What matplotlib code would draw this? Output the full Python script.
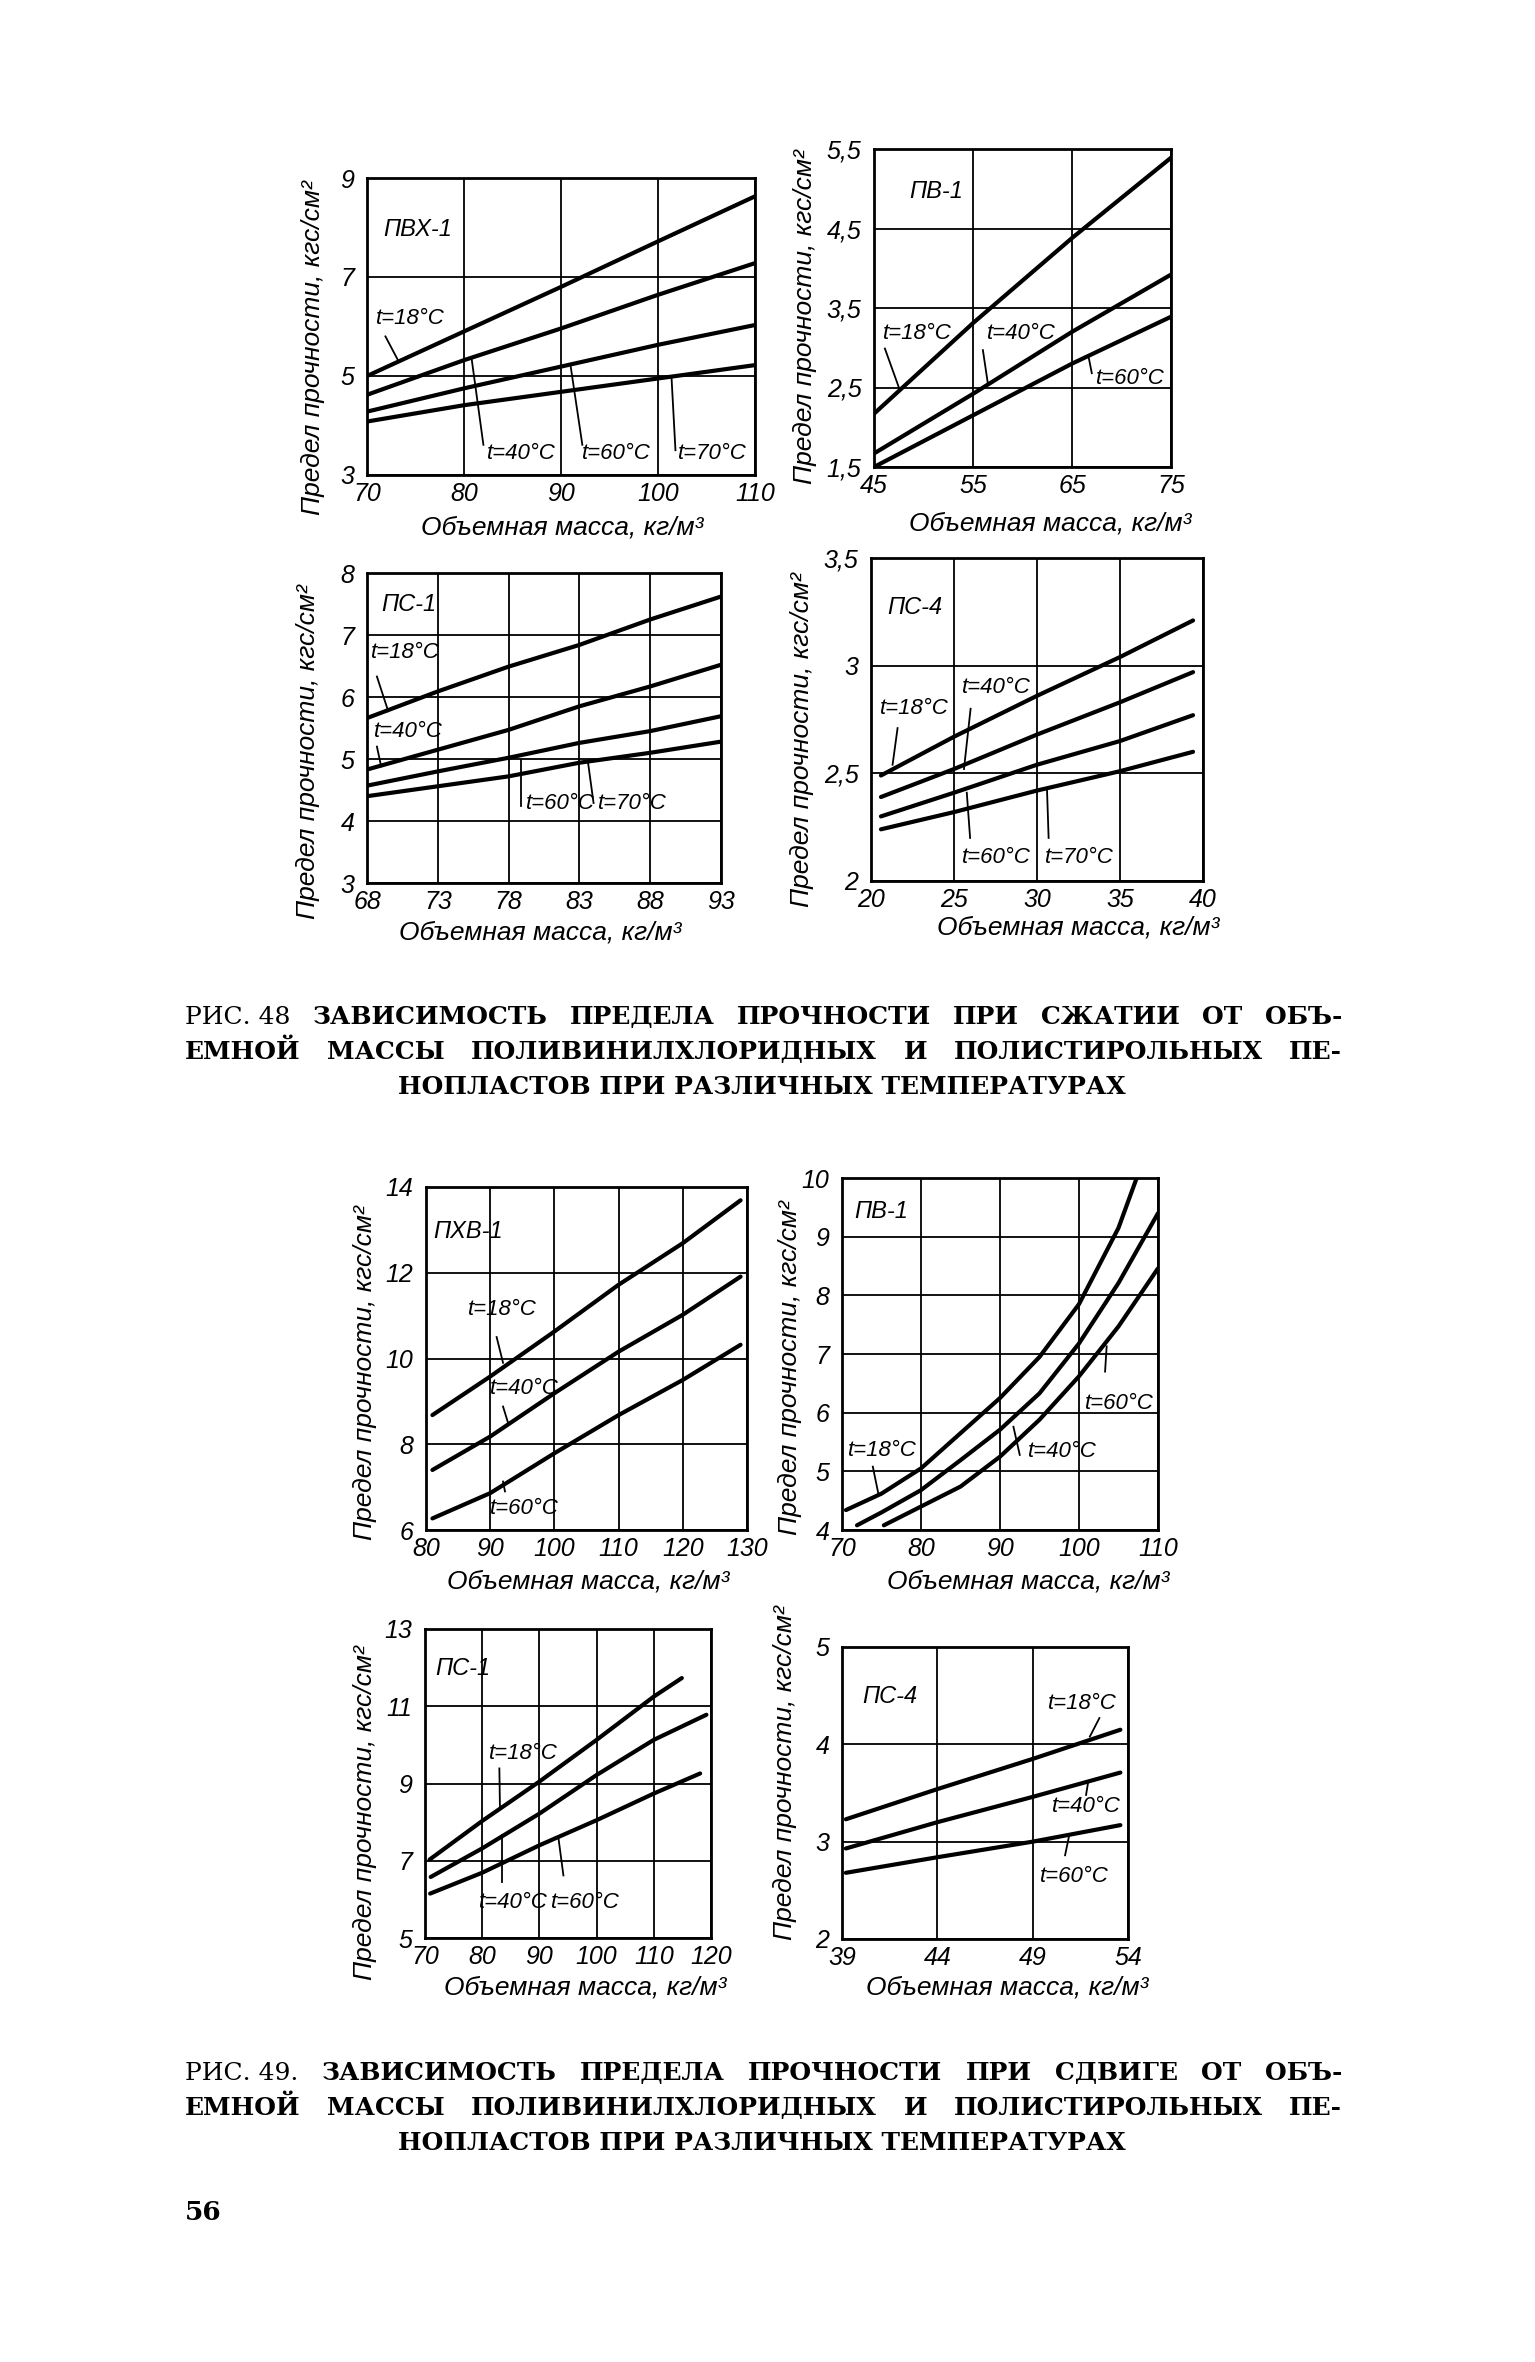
import matplotlib.pyplot as plt

plt.rcParams['font.family'] = ['Liberation Sans', 'DejaVu Sans']
plt.rcParams['font.style'] = 'italic'

W, H = 1535, 2362

# === Рис. 48: предел прочности при сжатии ===
pvh1_x = [70, 80, 90, 100, 110]
pvh1_t18 = [5.0, 5.9, 6.8, 7.72, 8.63]
pvh1_t40 = [4.62, 5.32, 5.96, 6.64, 7.28]
pvh1_t60 = [4.28, 4.75, 5.19, 5.63, 6.03]
pvh1_t70 = [4.08, 4.41, 4.68, 4.95, 5.22]
pvh1_xticks = [70, 80, 90, 100, 110]
pvh1_yticks = [3, 5, 7, 9]
pvh1_ylabels = ['3', '5', '7', '9']

pv1_x = [45, 55, 65, 75]
pv1_t18 = [2.17, 3.31, 4.38, 5.39]
pv1_t40 = [1.67, 2.42, 3.20, 3.92]
pv1_t60 = [1.50, 2.15, 2.80, 3.39]
pv1_xticks = [45, 55, 65, 75]
pv1_yticks = [1.5, 2.5, 3.5, 4.5, 5.5]
pv1_ylabels = ['1,5', '2,5', '3,5', '4,5', '5,5']

ps1_x = [68, 73, 78, 83, 88, 93]
ps1_t18 = [5.66, 6.09, 6.49, 6.84, 7.25, 7.62]
ps1_t40 = [4.83, 5.15, 5.47, 5.85, 6.17, 6.52]
ps1_t60 = [4.57, 4.80, 5.02, 5.26, 5.45, 5.69]
ps1_t70 = [4.40, 4.56, 4.72, 4.94, 5.10, 5.28]
ps1_xticks = [68, 73, 78, 83, 88, 93]
ps1_yticks = [3, 4, 5, 6, 7, 8]
ps1_ylabels = ['3', '4', '5', '6', '7', '8']

ps4_x = [20.6, 25, 30, 35, 39.4]
ps4_t18 = [2.49, 2.67, 2.86, 3.04, 3.21]
ps4_t40 = [2.39, 2.52, 2.68, 2.83, 2.97]
ps4_t60 = [2.30, 2.41, 2.54, 2.65, 2.77]
ps4_t70 = [2.24, 2.32, 2.42, 2.51, 2.60]
ps4_xticks = [20, 25, 30, 35, 40]
ps4_yticks = [2, 2.5, 3, 3.5]
ps4_ylabels = ['2', '2,5', '3', '3,5']

# === Рис. 49: предел прочности при сдвиге ===
pxv1s_x = [81, 90, 100, 110, 120, 129]
pxv1s_t18 = [8.68, 9.58, 10.63, 11.72, 12.69, 13.69]
pxv1s_t40 = [7.40, 8.18, 9.19, 10.16, 11.02, 11.91]
pxv1s_t60 = [6.27, 6.86, 7.79, 8.68, 9.50, 10.32]
pxv1s_xticks = [80, 90, 100, 110, 120, 130]
pxv1s_yticks = [6, 8, 10, 12, 14]
pxv1s_ylabels = ['6', '8', '10', '12', '14']

pv1s_t18_x = [70.5, 75, 80, 85, 90, 95, 100, 105, 107.3]
pv1s_t18 = [4.34, 4.62, 5.05, 5.65, 6.25, 6.95, 7.85, 9.15, 10.0]
pv1s_t40_x = [71.9, 75, 80, 85, 90, 95, 100, 105, 110]
pv1s_t40 = [4.08, 4.30, 4.68, 5.19, 5.71, 6.33, 7.18, 8.21, 9.40]
pv1s_t60_x = [75.3, 80, 85, 90, 95, 100, 105, 110]
pv1s_t60 = [4.08, 4.40, 4.74, 5.25, 5.88, 6.62, 7.47, 8.46]
pv1s_xticks = [70, 80, 90, 100, 110]
pv1s_yticks = [4, 5, 6, 7, 8, 9, 10]
pv1s_ylabels = ['4', '5', '6', '7', '8', '9', '10']

ps1s_t18_x = [70.8, 80, 90, 100, 110, 114.9]
ps1s_t18 = [7.03, 8.03, 9.05, 10.13, 11.25, 11.73]
ps1s_t40_x = [71, 80, 90, 100, 110, 119.2]
ps1s_t40 = [6.58, 7.32, 8.22, 9.22, 10.13, 10.78]
ps1s_t60_x = [70.9, 80, 90, 100, 110, 118.1]
ps1s_t60 = [6.15, 6.69, 7.40, 8.05, 8.74, 9.26]
ps1s_xticks = [70, 80, 90, 100, 110, 120]
ps1s_yticks = [5, 7, 9, 11, 13]
ps1s_ylabels = ['5', '7', '9', '11', '13']

ps4s_x = [39.2, 44, 49, 53.6]
ps4s_t18 = [3.23, 3.54, 3.85, 4.15]
ps4s_t40 = [2.93, 3.20, 3.46, 3.71]
ps4s_t60 = [2.68, 2.84, 3.00, 3.17]
ps4s_xticks = [39, 44, 49, 54]
ps4s_yticks = [2, 3, 4, 5]
ps4s_ylabels = ['2', '3', '4', '5']

YLAB = 'Предел прочности, кгс/см²'
XLAB = 'Объемная масса, кг/м³'

fig = plt.figure(figsize=(W / 100, H / 100), dpi=100)


def fx(x):
    return x / W


def fy(y):
    return 1 - y / H


def panel(l, t, r, b, xticks, yticks, ylabels):
    ax = fig.add_axes([fx(l), fy(b), (r - l) / W, (b - t) / H])
    ax.set_xlim(xticks[0], xticks[-1])
    ax.set_ylim(yticks[0], yticks[-1])
    ax.set_xticks(xticks)
    ax.set_xticklabels([str(v) for v in xticks])
    ax.set_yticks(yticks)
    ax.set_yticklabels(ylabels)
    ax.grid(True, color='black', lw=1.3)
    ax.tick_params(length=0, labelsize=18)
    ax.tick_params(axis='x', pad=5)
    ax.tick_params(axis='y', pad=9)
    for s in ax.spines.values():
        s.set_linewidth(2.0)
    return ax


def curve(ax, x, y):
    ax.plot(x, y, color='black', lw=3.0, solid_capstyle='round')


def notes(ax, name, nxy, items):
    ax.text(nxy[0], nxy[1], name, ha='left', va='center', fontsize=17)
    for txt, tx, ty, x0, y0, x1, y1 in items:
        ax.text(tx, ty, txt, ha='left', va='center', fontsize=16)
        ax.plot([x0, x1], [y0, y1], color='black', lw=1.3)


def axis_titles(xl, yl):
    fig.text(fx(xl[0]), fy(xl[1]), XLAB, ha='center', va='center', fontsize=19)
    fig.text(fx(yl[0]), fy(yl[1]), YLAB, ha='center', va='center',
             fontsize=19, rotation=90)


# --- ПВХ-1, сжатие ---
ax = panel(367, 178, 755, 475, pvh1_xticks, pvh1_yticks, pvh1_ylabels)
for ys in (pvh1_t18, pvh1_t40, pvh1_t60, pvh1_t70):
    curve(ax, pvh1_x, ys)
notes(ax, 'ПВХ-1', (71.7, 7.95), [
    ('t=18°C', 70.9, 6.17, 71.9, 5.8, 73.3, 5.28),
    ('t=40°C', 82.4, 3.44, 82.0, 3.61, 80.8, 5.33),
    ('t=60°C', 92.2, 3.44, 92.2, 3.61, 91.0, 5.19),
    ('t=70°C', 102.1, 3.44, 101.8, 3.5, 101.4, 4.95),
])
axis_titles((562, 528), (313, 348))

# --- ПВ-1, сжатие ---
ax = panel(874, 149, 1171, 467, pv1_xticks, pv1_yticks, pv1_ylabels)
for ys in (pv1_t18, pv1_t40, pv1_t60):
    curve(ax, pv1_x, ys)
notes(ax, 'ПВ-1', (48.6, 4.97), [
    ('t=18°C', 45.9, 3.18, 46.1, 2.99, 47.6, 2.47),
    ('t=40°C', 56.4, 3.18, 56.0, 2.97, 56.5, 2.55),
    ('t=60°C', 67.4, 2.61, 67.0, 2.68, 66.7, 2.87),
])
axis_titles((1050, 523), (805, 317))

# --- ПС-1, сжатие ---
ax = panel(367, 573, 721, 883, ps1_xticks, ps1_yticks, ps1_ylabels)
for ys in (ps1_t18, ps1_t40, ps1_t60, ps1_t70):
    curve(ax, ps1_x, ys)
notes(ax, 'ПС-1', (69.0, 7.49), [
    ('t=18°C', 68.3, 6.71, 68.7, 6.33, 69.5, 5.77),
    ('t=40°C', 68.5, 5.45, 68.7, 5.2, 69.0, 4.88),
    ('t=60°C', 79.2, 4.29, 78.9, 4.24, 78.9, 4.99),
    ('t=70°C', 84.3, 4.29, 84.0, 4.29, 83.6, 4.96),
])
axis_titles((540, 933), (308, 752))

# --- ПС-4, сжатие ---
ax = panel(871, 558, 1203, 881, ps4_xticks, ps4_yticks, ps4_ylabels)
for ys in (ps4_t18, ps4_t40, ps4_t60, ps4_t70):
    curve(ax, ps4_x, ys)
notes(ax, 'ПС-4', (21.0, 3.27), [
    ('t=18°C', 20.56, 2.80, 21.6, 2.71, 21.3, 2.54),
    ('t=40°C', 25.5, 2.90, 26.0, 2.80, 25.6, 2.52),
    ('t=60°C', 25.47, 2.11, 25.97, 2.20, 25.77, 2.41),
    ('t=70°C', 30.5, 2.11, 30.7, 2.20, 30.6, 2.43),
])
axis_titles((1078, 927), (802, 740))

# --- ПХВ-1, сдвиг ---
ax = panel(426, 1187, 747, 1530, pxv1s_xticks, pxv1s_yticks, pxv1s_ylabels)
for ys in (pxv1s_t18, pxv1s_t40, pxv1s_t60):
    curve(ax, pxv1s_x, ys)
notes(ax, 'ПХВ-1', (81.1, 12.96), [
    ('t=18°C', 86.6, 11.14, 91.0, 10.5, 92.0, 9.9),
    ('t=40°C', 90.0, 9.3, 92.0, 8.88, 92.8, 8.49),
    ('t=60°C', 90.0, 6.5, 92.3, 6.9, 92.0, 7.13),
])
axis_titles((588, 1582), (365, 1373))

# --- ПВ-1, сдвиг ---
ax = panel(842, 1178, 1158, 1530, pv1s_xticks, pv1s_yticks, pv1s_ylabels)
curve(ax, pv1s_t18_x, pv1s_t18)
curve(ax, pv1s_t40_x, pv1s_t40)
curve(ax, pv1s_t60_x, pv1s_t60)
notes(ax, 'ПВ-1', (71.6, 9.43), [
    ('t=18°C', 70.8, 5.36, 73.9, 5.08, 74.6, 4.62),
    ('t=40°C', 93.6, 5.34, 92.5, 5.28, 91.7, 5.76),
    ('t=60°C', 100.8, 6.16, 103.3, 6.7, 103.5, 7.13),
])
axis_titles((1028, 1582), (790, 1368))

# --- ПС-1, сдвиг ---
ax = panel(425, 1629, 711, 1938, ps1s_xticks, ps1s_yticks, ps1s_ylabels)
curve(ax, ps1s_t18_x, ps1s_t18)
curve(ax, ps1s_t40_x, ps1s_t40)
curve(ax, ps1s_t60_x, ps1s_t60)
notes(ax, 'ПС-1', (71.75, 11.99), [
    ('t=18°C', 81.1, 9.78, 83.0, 9.39, 83.1, 8.4),
    ('t=40°C', 79.5, 5.93, 83.4, 6.45, 83.4, 7.66),
    ('t=60°C', 92.0, 5.93, 94.2, 6.62, 93.3, 7.62),
])
axis_titles((585, 1987), (365, 1813))

# --- ПС-4, сдвиг ---
ax = panel(842, 1647, 1128, 1939, ps4s_xticks, ps4s_yticks, ps4s_ylabels)
for ys in (ps4s_t18, ps4s_t40, ps4s_t60):
    curve(ax, ps4s_x, ys)
notes(ax, 'ПС-4', (40.05, 4.49), [
    ('t=18°C', 49.8, 4.42, 52.5, 4.27, 52.0, 4.08),
    ('t=40°C', 50.0, 3.36, 51.9, 3.6, 51.8, 3.48),
    ('t=60°C', 49.4, 2.64, 50.7, 2.86, 50.9, 3.05),
])
axis_titles((1007, 1987), (785, 1773))

# === подписи к рисункам ===
CAP = dict(family='DejaVu Serif', fontstyle='normal', fontsize=18, va='center')
renderer = fig.canvas.get_renderer()


def justified(words, x0, x1, y, first_normal=False):
    texts = []
    for i, w in enumerate(words):
        wt = 'normal' if (first_normal and i == 0) else 'bold'
        texts.append(fig.text(0, fy(y), w, fontweight=wt, **CAP))
    widths = [t.get_window_extent(renderer).width for t in texts]
    gap = ((x1 - x0) - sum(widths)) / (len(words) - 1)
    x = x0
    for t, w in zip(texts, widths):
        t.set_x(fx(x))
        x += w + gap


def caption(first, y0):
    justified(first.split('|'), 185, 1342, y0, first_normal=True)
    justified('ЕМНОЙ МАССЫ ПОЛИВИНИЛХЛОРИДНЫХ И ПОЛИСТИРОЛЬНЫХ ПЕ-'.split(),
              185, 1342, y0 + 35)
    fig.text(fx(762), fy(y0 + 70), 'НОПЛАСТОВ ПРИ РАЗЛИЧНЫХ ТЕМПЕРАТУРАХ',
             ha='center', fontweight='bold', **CAP)


caption('РИС. 48|ЗАВИСИМОСТЬ|ПРЕДЕЛА|ПРОЧНОСТИ|ПРИ|СЖАТИИ|ОТ|ОБЪ-', 1017)
caption('РИС. 49.|ЗАВИСИМОСТЬ|ПРЕДЕЛА|ПРОЧНОСТИ|ПРИ|СДВИГЕ|ОТ|ОБЪ-', 2073)

fig.text(fx(185), fy(2212), '56', family='DejaVu Serif', fontstyle='normal',
         fontweight='bold', fontsize=19, va='center')

fig.savefig('out.png', dpi=100, facecolor='white')
